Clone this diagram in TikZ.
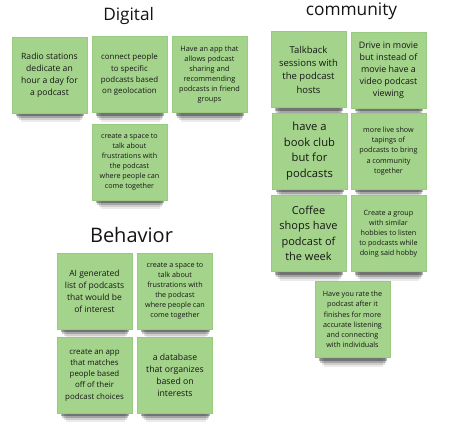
\documentclass[tikz,border=0pt]{standalone}
\usepackage{fontspec}
\setmainfont{Open Sans}
\usetikzlibrary{backgrounds}
\definecolor{notegreen}{RGB}{164,212,139}
\definecolor{noteedge}{RGB}{152,202,128}
\definecolor{notetext}{RGB}{22,22,22}
\definecolor{titletext}{RGB}{20,20,20}
\tikzset{
  note/.style={fill=notegreen, draw=noteedge, line width=0.3pt,
    minimum width=75pt, minimum height=76pt, inner sep=1pt,
    align=center, text=notetext},
  title/.style={anchor=base, text=titletext, inner sep=0pt},
  fs/.style 2 args={font=\fontsize{#1}{#2}\selectfont},
  shade1/.style={fill=black, opacity=.08},
  shade2/.style={fill=black, opacity=.12},
  shade3/.style={fill=black, opacity=.20},
  shade4/.style={fill=black, opacity=.30}
}
\begin{document}
\begin{tikzpicture}[x=1pt,y=-1pt]
\useasboundingbox (0,0) rectangle (456,424);
% titles
\node[title, font=\fontsize{17.2}{20}\selectfont] (tdig) at (128.6,20.5) {Digital};
\node[title, font=\fontsize{17.3}{20}\selectfont] (tcom) at (351.5,15) {community};
\node[title, font=\fontsize{20}{24}\selectfont] (tbeh) at (131.5,242) {Behavior};
% Digital
\node[note, fs={8.6}{12}] (d1) at (49.5,75) {Radio stations\\dedicate an\\hour a day for\\a podcast};
\node[note, fs={7.9}{11.1}] (d2) at (129.5,74.5) {connect people\\to specific\\podcasts based\\on geolocation};
\node[note, fs={7.3}{10}] (d3) at (209.5,74.5) {Have an app that\\allows podcast\\sharing and\\recommending\\podcasts in friend\\groups};
\node[note, fs={7.2}{10}] (d4) at (129.5,162) {create a space to\\talk about\\frustrations with\\the podcast\\where people can\\come together};
% community
\node[note, fs={9.5}{13.3}] (c1) at (308.5,69.5) {Talkback\\sessions with\\the podcast\\hosts};
\node[note, fs={8.9}{12}] (c2) at (388.5,70) {Drive in movie\\but instead of\\movie have a\\video podcast\\viewing};
\node[note, fs={11.2}{15.8}] (c3) at (309.5,151) {have a\\book club\\but for\\podcasts};
\node[note, fs={7.2}{10.2}] (c4) at (388.5,151) {more live show\\tapings of\\podcasts to bring\\a community\\together};
\node[note, fs={11}{15.5}] (c5) at (308.5,233.5) {Coffee\\shops have\\podcast of\\the week};
\node[note, fs={7.2}{10}] (c6) at (388.5,233.5) {Create a group\\with similar\\hobbies to listen\\to podcasts while\\doing said hobby};
\node[note, fs={7.2}{10.2}] (c7) at (352.5,319.5) {Have you rate the\\podcast after it\\finishes for more\\accurate listening\\and connecting\\with individuals};
% Behavior
\node[note, fs={8.5}{12}] (b1) at (94.5,291) {AI generated\\list of podcasts\\that would be\\of interest};
\node[note, fs={7.2}{10}] (b2) at (175,291) {create a space to\\talk about\\frustrations with\\the podcast\\where people can\\come together};
\node[note, fs={7.9}{11.25}] (b3) at (94.5,375) {create an app\\that matches\\people based\\off of their\\podcast choices};
\node[note, fs={8.7}{12}] (b4) at (175,375) {a database\\that organizes\\based on\\interests};
% white page and the shadows under the notes
\begin{pgfonlayer}{background}
\fill[white] (0,0) rectangle (456,424);
\foreach \n in {d1,d2,d3,d4,c1,c2,c3,c4,c5,c6,c7,b1,b2,b3,b4}{
  \fill[shade1] ([xshift=9pt,yshift=2pt]\n.south west) rectangle ([xshift=-7pt,yshift=-9pt]\n.south east);
  \fill[shade2] ([xshift=7pt,yshift=2pt]\n.south west) rectangle ([xshift=-5pt,yshift=-7pt]\n.south east);
  \fill[shade3] ([xshift=5pt,yshift=2pt]\n.south west) rectangle ([xshift=-4pt,yshift=-5pt]\n.south east);
  \fill[shade4] ([xshift=4pt,yshift=2pt]\n.south west) rectangle ([xshift=-3pt,yshift=-3pt]\n.south east);
}
\end{pgfonlayer}
\end{tikzpicture}
\end{document}
